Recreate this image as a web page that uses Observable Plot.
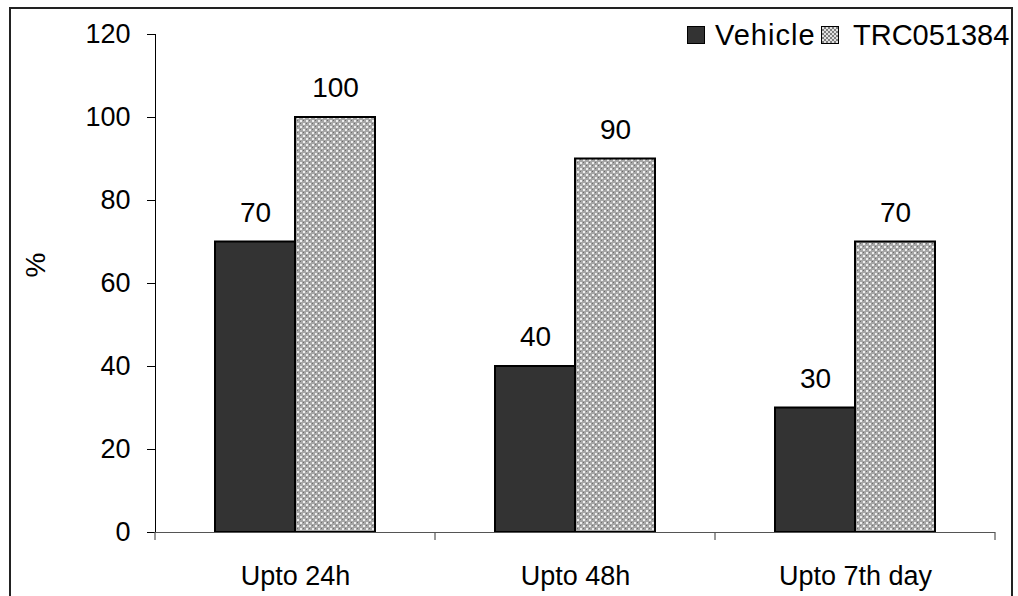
<!DOCTYPE html>
<html>
<head>
<meta charset="utf-8">
<script src="https://cdn.jsdelivr.net/npm/d3@7"></script>
<script src="https://cdn.jsdelivr.net/npm/@observablehq/plot@0.6"></script>
<style>
  html, body { margin: 0; padding: 0; background: #fff; }
  #wrap { position: relative; width: 1018px; height: 596px; overflow: hidden; font-family: "Liberation Sans", Arial, sans-serif; }
  #border { position: absolute; left: 9px; top: 7px; width: 1004px; height: 600px; border: 2px solid #222; box-sizing: border-box; pointer-events: none; }
  .lg { position: absolute; font-size: 29px; color: #000; line-height: 1; white-space: nowrap; }
  .sw { position: absolute; width: 18px; height: 18px; box-sizing: border-box; border: 1.5px solid #000; }
</style>
</head>
<body>
<div id="wrap">
  <div id="chart"></div>
  <div id="border"></div>
</div>
<script>
const categories = ["Upto 24h", "Upto 48h", "Upto 7th day"];
const seriesNames = ["Vehicle", "TRC051384"];
const vehicleValues = [70, 40, 30];
const trcValues = [100, 90, 70];
const yTicks = [0, 20, 40, 60, 80, 100, 120];

const vehicleData = categories.map((c, i) => ({cat: c, series: seriesNames[0], value: vehicleValues[i]}));
const trcData = categories.map((c, i) => ({cat: c, series: seriesNames[1], value: trcValues[i]}));
const allData = vehicleData.concat(trcData);

const plot = Plot.plot({
  width: 1018,
  height: 596,
  marginLeft: 155,
  marginRight: 23,
  marginTop: 34,
  marginBottom: 64,
  style: {fontFamily: '"Liberation Sans", Arial, sans-serif', fontSize: "27px", color: "#000", background: "transparent", overflow: "visible"},
  fx: {domain: categories, padding: 0, axis: "bottom", tickSize: 0, tickPadding: 33, label: null},
  x: {domain: seriesNames, paddingInner: 0, paddingOuter: 0.75, axis: null},
  y: {domain: [0, 120], ticks: yTicks, tickSize: 8, tickPadding: 17, label: null, line: true},
  marks: [
    Plot.barY(vehicleData, {fx: "cat", x: "series", y: "value", fill: "#333333", stroke: "#000", strokeWidth: 2}),
    Plot.barY(trcData, {fx: "cat", x: "series", y: "value", fill: "url(#dots)", stroke: "#000", strokeWidth: 2}),
    Plot.ruleY([0], {stroke: "#555", strokeWidth: 1.2}),
    Plot.text(allData, {fx: "cat", x: "series", y: "value", text: d => String(d.value), dy: -29, fontSize: 28, fill: "#000"})
  ]
});

document.getElementById("chart").appendChild(plot);

const svg = d3.select(plot);
// pattern defs
const defs = svg.insert("defs", ":first-child");
const pat = defs.append("pattern").attr("id", "dots").attr("patternUnits", "userSpaceOnUse")
  .attr("width", 6).attr("height", 6);
pat.append("rect").attr("width", 6).attr("height", 6).attr("fill", "#a6a6a6");
pat.append("rect").attr("x", 0).attr("y", 0).attr("width", 2).attr("height", 2).attr("fill", "#eeeeee");
pat.append("rect").attr("x", 3).attr("y", 3).attr("width", 2).attr("height", 2).attr("fill", "#eeeeee");
pat.append("rect").attr("x", 3).attr("y", 0).attr("width", 1).attr("height", 1).attr("fill", "#6e6e6e");
pat.append("rect").attr("x", 0).attr("y", 3).attr("width", 1).attr("height", 1).attr("fill", "#6e6e6e");

// category boundary ticks from the fx scale
const fxs = plot.scale("fx");
const ys = plot.scale("y");
const band = d3.scaleBand().domain(fxs.domain).range(fxs.range)
  .paddingInner(fxs.paddingInner || 0).paddingOuter(fxs.paddingOuter || 0).align(fxs.align ?? 0.5);
const y0 = d3.scaleLinear().domain(ys.domain).range(ys.range)(0);
const bounds = categories.map(c => band(c)).concat([band(categories[categories.length - 1]) + band.bandwidth()]);
svg.append("g").selectAll("line").data(bounds).join("line")
  .attr("x1", d => d).attr("x2", d => d).attr("y1", y0).attr("y2", y0 + 8)
  .attr("stroke", "#555").attr("stroke-width", 1.2);

// y label
const yr = ys.range;
svg.append("text").attr("transform", `translate(35,${(yr[0] + yr[1]) / 2 - 18}) rotate(-90)`)
  .attr("text-anchor", "middle").attr("dy", "0.35em").attr("font-size", 28).attr("fill", "#000").text("%");

// legend
const wrap = document.getElementById("wrap");
function addSwatch(left, fill) {
  const s = document.createElement("div");
  s.className = "sw";
  s.style.left = left + "px";
  s.style.top = "26px";
  if (fill === "pattern") {
    s.style.background = "repeating-conic-gradient(#7e7e7e 0 25%, #e0e0e0 0 50%) 0 0/4px 4px";
  } else {
    s.style.background = fill;
  }
  wrap.appendChild(s);
}
function addText(left, t, spacing) {
  const e = document.createElement("div");
  e.className = "lg";
  e.style.left = left + "px";
  e.style.top = "21px";
  if (spacing) e.style.letterSpacing = spacing;
  e.textContent = t;
  wrap.appendChild(e);
}
addSwatch(687, "#333333");
addText(715, seriesNames[0], "1px");
addSwatch(821, "pattern");
addText(853, seriesNames[1]);
</script>
</body>
</html>
